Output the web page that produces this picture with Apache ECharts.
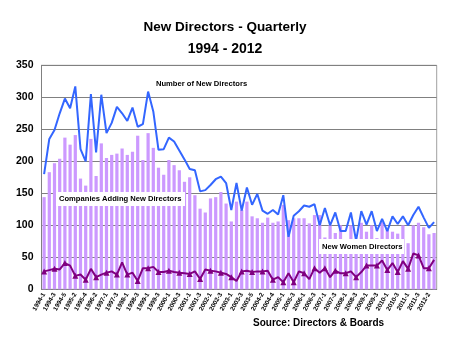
<!DOCTYPE html>
<html>
<head>
<meta charset="utf-8">
<title>New Directors - Quarterly</title>
<script src="https://cdn.jsdelivr.net/npm/echarts@6/dist/echarts.min.js"></script>
<style>
  html, body { margin: 0; padding: 0; background: #fff; }
  #chart { width: 450px; height: 338px; }
</style>
</head>
<body>
<div id="chart"></div>
<script>
// Quarter keys as recorded in the source series (some years carry a 5th entry)
const quarters = [
  '1994-1','1994-2','1994-3','1994-4','1994-5',
  '1995-1','1995-2','1995-3','1995-4',
  '1996-1','1996-2','1996-3',
  '1997-1','1997-2','1997-3','1997-4',
  '1998-1','1998-2','1998-3','1998-4',
  '1999-1','1999-2','1999-3','1999-4',
  '2000-1','2000-2','2000-3','2000-4',
  '2001-1','2001-2','2001-3','2001-4',
  '2002-1','2002-2','2002-3','2002-4',
  '2003-1','2003-2','2003-3','2003-4','2003-5',
  '2004-1','2004-2','2004-3','2004-4','2004-5',
  '2005-1','2005-2','2005-3','2005-4',
  '2006-1','2006-2','2006-3','2006-4',
  '2007-1','2007-2','2007-3','2007-4',
  '2008-1','2008-2','2008-3','2008-4',
  '2009-1','2009-2','2009-3','2009-4',
  '2010-1','2010-2','2010-3','2010-4',
  '2011-1','2011-2','2011-3','2012-1',
  '2012-2','2012-3'
];

// Companies adding new directors (bars)
const companiesAdding = [
  144,183,197,204,237, 226,241,173,162, 235,177,228,
  205,210,212,220, 210,215,240,202, 244,221,190,179,
  202,194,186,168, 175,147,126,120, 142,144,152,134,
  106,137,124,137,114, 111,104,112,104,106, 132,108,111,111,
  111,103,116,116, 81,100,88,100, 75,100,60,104,
  90,100,80,105, 95,90,87,100, 72,100,104,97,
  86,88
];

// Number of new directors (blue line)
const newDirectors = [
  180,235,249,275,298, 283,317,219,200, 305,214,304,
  244,260,285,275, 263,284,254,258, 309,278,218,219,
  237,231,217,203, 188,186,153,155, 163,172,176,166,
  124,166,123,159,132, 149,123,118,124,117, 147,82,115,122,
  131,129,133,100, 127,100,120,91, 91,120,76,122,
  101,122,91,110, 91,114,102,114, 100,116,129,112,
  96,105
];

// New women directors (purple line with triangles)
const newWomen = [
  28,30,32,31,41, 37,21,23,15, 32,19,23,
  26,28,23,42, 23,26,13,33, 33,35,27,27,
  29,27,26,25, 24,28,16,31, 29,28,26,24,
  19,13,28,29,27, 28,28,29,15,19, 11,25,11,28,
  25,16,33,26, 33,19,29,25, 25,28,19,27,
  37,37,37,45, 30,41,27,44, 32,56,53,33,
  33,46
];

const yTicks = { min: 0, max: 350, step: 50 };

const chart = echarts.init(document.getElementById('chart'), null, { renderer: 'canvas' });
const FONT = 'Arial, "Liberation Sans", sans-serif';

chart.setOption({
  backgroundColor: '#ffffff',
  animation: false,
  title: [
    { text: 'New Directors - Quarterly', left: 'center', top: 15,
      textStyle: { fontFamily: FONT, fontSize: 13.5, fontWeight: 'bold', color: '#000' } },
    { text: '1994 - 2012', left: 'center', top: 37,
      textStyle: { fontFamily: FONT, fontSize: 14, fontWeight: 'bold', color: '#000' } },
    { text: 'Source: Directors & Boards', left: 248, top: 313,
      textStyle: { fontFamily: FONT, fontSize: 10, fontWeight: 'bold', color: '#000' } }
  ],
  grid: { left: 41.5, right: 13.3, top: 65.3, bottom: 48.7, show: true,
          borderColor: '#a0a0a0', borderWidth: 1, backgroundColor: '#fff' },
  xAxis: {
    type: 'category', data: quarters, boundaryGap: true,
    axisLine: { lineStyle: { color: '#808080' } },
    axisTick: { show: false },
    axisLabel: { interval: 1, rotate: 60, fontSize: 6.3, fontFamily: FONT,
                 fontWeight: 'bold', color: '#000', margin: 4 }
  },
  yAxis: {
    type: 'value', min: yTicks.min, max: yTicks.max, interval: yTicks.step,
    axisLine: { show: true, lineStyle: { color: '#808080' } },
    axisTick: { show: false },
    axisLabel: { fontSize: 10.5, fontFamily: FONT, fontWeight: 'bold', color: '#000', margin: 8 },
    splitLine: { lineStyle: { color: '#808080', width: 1 } }
  },
  series: [
    { name: 'Companies Adding New Directors', type: 'bar', data: companiesAdding,
      barWidth: '62%', itemStyle: { color: '#cc99ff' }, z: 1 },
    { name: 'Number of New Directors', type: 'line', data: newDirectors,
      showSymbol: false, symbol: 'none',
      lineStyle: { color: '#3366ff', width: 2 }, itemStyle: { color: '#3366ff' }, z: 3 },
    { name: 'New Women Directors', type: 'line', data: newWomen,
      symbol: 'triangle', symbolSize: 6,
      lineStyle: { color: '#800080', width: 2 }, itemStyle: { color: '#800080' }, z: 4 }
  ],
  graphic: [
    { type: 'text', x: 156, y: 84, z: 100,
      style: { text: 'Number of New Directors', font: 'bold 7.6px ' + FONT, fill: '#000',
               verticalAlign: 'middle' } },
    { type: 'group', x: 56, y: 192, z: 100, children: [
      { type: 'rect', z: 100, shape: { x: 0, y: 0, width: 129, height: 14 }, style: { fill: '#fff' } },
      { type: 'text', z: 101, x: 3, y: 7,
        style: { text: 'Companies Adding New Directors', font: 'bold 7.6px ' + FONT, fill: '#000',
                 verticalAlign: 'middle' } }
    ] },
    { type: 'group', x: 319, y: 239, z: 100, children: [
      { type: 'rect', z: 100, shape: { x: 0, y: 0, width: 85, height: 15 }, style: { fill: '#fff' } },
      { type: 'text', z: 101, x: 3, y: 7.5,
        style: { text: 'New Women Directors', font: 'bold 7.6px ' + FONT, fill: '#000',
                 verticalAlign: 'middle' } }
    ] }
  ]
});
</script>
</body>
</html>
